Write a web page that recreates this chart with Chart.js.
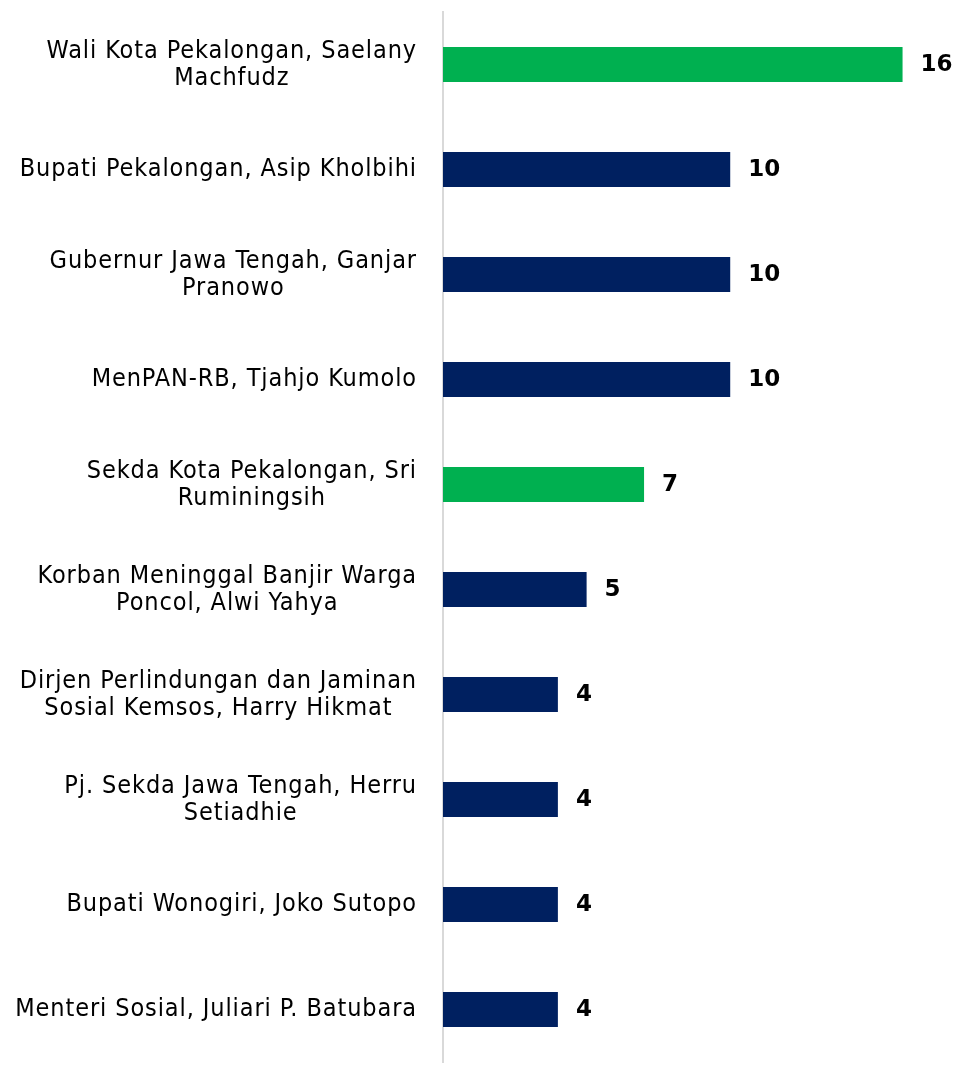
<!DOCTYPE html>
<html>
<head>
<meta charset="utf-8">
<script src="https://cdn.jsdelivr.net/npm/chart.js@4.4.0/dist/chart.umd.min.js"></script>
<style>
    html, body { margin: 0; padding: 0; background: #fff; }
    #chart { display: block; }
</style>
</head>
<body>
<canvas id="chart" width="961" height="1067"></canvas>
<script>
// categories (multi-line labels kept as arrays of lines)
const categories = [
    ['Wali Kota Pekalongan, Saelany', 'Machfudz'],
    ['Bupati Pekalongan, Asip Kholbihi'],
    ['Gubernur Jawa Tengah, Ganjar ', 'Pranowo'],
    ['MenPAN-RB, Tjahjo Kumolo'],
    ['Sekda Kota Pekalongan, Sri', 'Ruminingsih'],
    ['Korban Meninggal Banjir Warga', 'Poncol, Alwi Yahya'],
    ['Dirjen Perlindungan dan Jaminan', 'Sosial Kemsos, Harry Hikmat'],
    ['Pj. Sekda Jawa Tengah, Herru', 'Setiadhie'],
    ['Bupati Wonogiri, Joko Sutopo'],
    ['Menteri Sosial, Juliari P. Batubara']
];
const values = [16, 10, 10, 10, 7, 5, 4, 4, 4, 4];
const highlighted = [0, 4]; // Pekalongan city officials, drawn in green

const GREEN = '#00B050';
const NAVY = '#002060';
const labelFont = '25px "DejaVu Sans Condensed", "DejaVu Sans", sans-serif';
const valueFont = 'bold 23px "DejaVu Sans", sans-serif';

const barColors = values.map((v, i) => highlighted.includes(i) ? GREEN : NAVY);

// draws the category names (right-aligned block, centered lines) and the value labels
const labelPlugin = {
    id: 'sideLabels',
    afterDraw(chart) {
        const ctx = chart.ctx;
        const yScale = chart.scales.y;
        const left = chart.chartArea.left;
        ctx.save();
        ctx.fillStyle = '#000';
        ctx.textBaseline = 'middle';

        ctx.font = labelFont;
        ctx.letterSpacing = '0.9px';
        ctx.textAlign = 'center';
        categories.forEach((lines, i) => {
            const y = yScale.getPixelForValue(i);
            const w = Math.max(...lines.map(l => ctx.measureText(l.trim()).width));
            const cx = left - 26 - w / 2;
            lines.forEach((line, k) => {
                ctx.fillText(line.trim(), cx, y + (k - (lines.length - 1) / 2) * 27);
            });
        });

        ctx.font = valueFont;
        ctx.letterSpacing = '0px';
        ctx.textAlign = 'left';
        chart.getDatasetMeta(0).data.forEach((bar, i) => {
            ctx.fillText(String(values[i]), bar.x + 18, bar.y + 1);
        });
        ctx.restore();
    }
};

const ctx = document.getElementById('chart').getContext('2d');
const chart = new Chart(ctx, {
    type: 'bar',
    data: {
        labels: categories,
        datasets: [{
            data: values,
            backgroundColor: barColors,
            borderWidth: 0,
            barPercentage: 1,
            categoryPercentage: 0.333
        }]
    },
    options: {
        indexAxis: 'y',
        responsive: false,
        devicePixelRatio: 1,
        animation: false,
        layout: {
            padding: { top: 12, bottom: 5, left: 0, right: 1 }
        },
        scales: {
            x: {
                display: false,
                min: 0,
                max: 18
            },
            y: {
                grid: { display: false },
                border: { display: true, color: '#D9D9D9', width: 2 },
                ticks: { display: false },
                afterFit: (scale) => { scale.width = 443; }
            }
        },
        plugins: {
            legend: { display: false },
            tooltip: { enabled: false }
        }
    },
    plugins: [labelPlugin]
});
</script>
</body>
</html>
